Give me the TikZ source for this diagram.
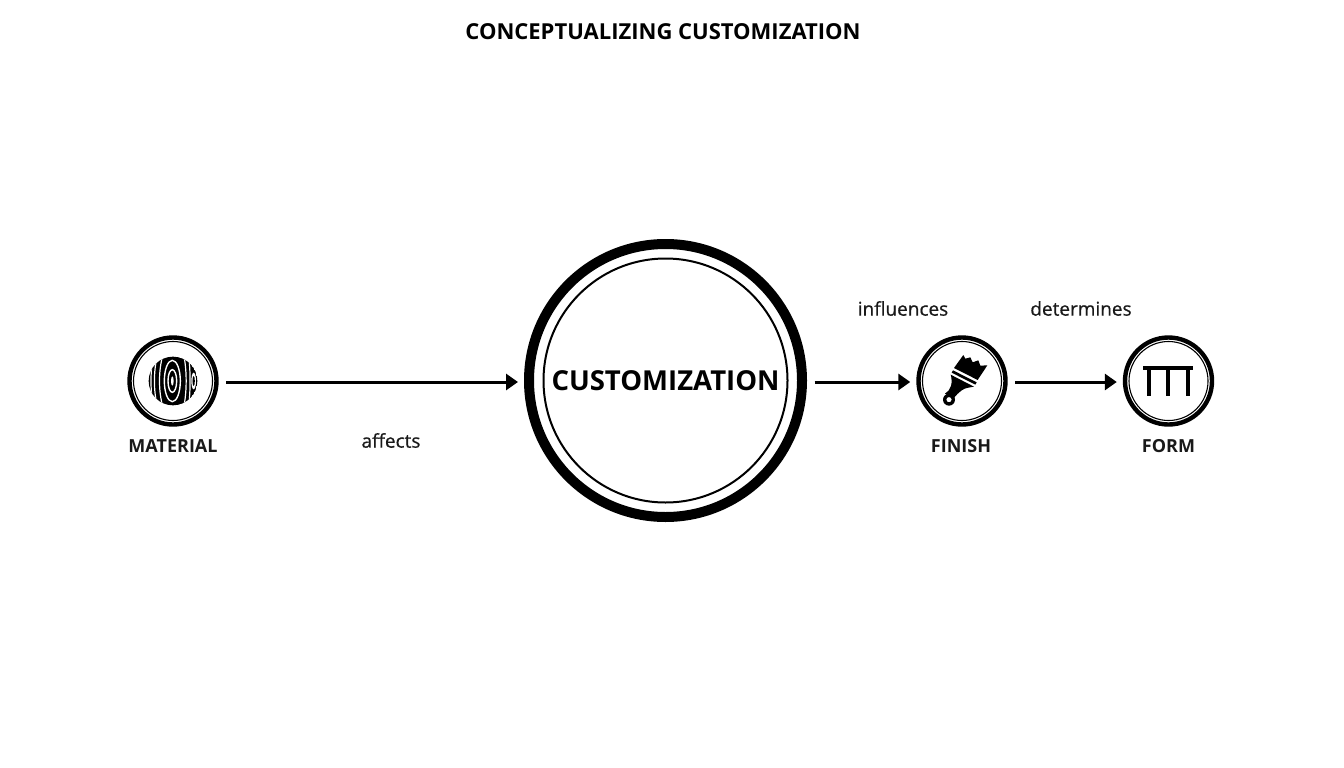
\documentclass[tikz,border=0pt]{standalone}
\usepackage{fontspec}
\setmainfont{Open Sans}
\newfontfamily\medfont[FakeBold=0.7]{Open Sans}
\usetikzlibrary{arrows.meta}
\tikzset{
  small ring/.style={circle,draw=black,line width=4.4pt,minimum size=87pt,inner sep=0pt,fill=white},
  big ring/.style={circle,draw=black,line width=10pt,minimum size=273pt,inner sep=0pt,fill=white},
  thin ring/.style={circle,draw=black,inner sep=0pt},
  item label/.style={font=\fontsize{18}{20}\selectfont\bfseries,text=black!90,inner sep=0pt,anchor=center},
  link label/.style={font=\medfont\fontsize{19}{22}\selectfont,text=black!90,inner sep=0pt,anchor=center},
  flow/.style={line width=3pt,draw=black,-{Triangle[length=12pt,width=16pt]},shorten <=7.5pt,shorten >=6pt},
}
\begin{document}
\begin{tikzpicture}[x=1pt,y=-1pt]
\useasboundingbox (0,0) rectangle (1344,768);
\node[font=\fontsize{22}{24}\selectfont\bfseries,inner sep=0pt] (title) at (663,31.5) {CONCEPTUALIZING CUSTOMIZATION};

\node[big ring] (custom) at (665.5,380.5) {};
\node[thin ring,line width=2pt,minimum size=244pt] (customin) at (custom) {};
\node[font=\fontsize{27.5}{30}\selectfont\bfseries,inner sep=0pt] (customtext) at (665.5,380.5) {CUSTOMIZATION};

\node[small ring] (material) at (173,381) {};
\node[thin ring,line width=1.1pt,minimum size=79pt] (materialin) at (material) {};
\node[small ring] (finish) at (962,381) {};
\node[thin ring,line width=1.1pt,minimum size=79pt] (finishin) at (finish) {};
\node[small ring] (form) at (1168.5,381) {};
\node[thin ring,line width=1.1pt,minimum size=79pt] (formin) at (form) {};

\node[item label] (lmaterial) at (173,446) {MATERIAL};
\node[item label] (lfinish) at (961,446) {FINISH};
\node[item label] (lform) at (1168.5,446) {FORM};
\node[link label] (laffects) at (391,440.5) {affects};
\node[link label] (linfluences) at (903,308.5) {influences};
\node[link label] (ldetermines) at (1081,308.5) {determines};

\draw[flow] (material.east |- 0,382) -- (custom.west |- 0,382);
\draw[flow] (custom.east |- 0,382) -- (finish.west |- 0,382);
\draw[flow] (finish.east |- 0,382) -- (form.west |- 0,382);

% wood icon
\begin{scope}[shift={(143,351)},x=0.3333pt,y=-0.3333pt]
  \begin{scope}
    \clip (90,90) circle [radius=73];
    \fill[black] (90,90) circle [radius=73];
    \draw[white,line width=1.2pt] (60,10) .. controls (46,60) and (46,120) .. (60,170);
    \draw[white,line width=1.2pt] (44,10) .. controls (31,60) and (31,120) .. (44,170);
    \draw[white,line width=1.2pt] (30,20) .. controls (22,60) and (22,120) .. (30,160);
    \draw[white,line width=1.2pt] (122,10) .. controls (132,60) and (132,120) .. (122,170);
    \draw[white,line width=1.2pt] (136,10) .. controls (143,50) and (143,130) .. (136,170);
    \draw[white,line width=1.4pt] (88,90) ellipse [x radius=24,y radius=62];
    \draw[white,line width=1.4pt] (88,90) ellipse [x radius=13,y radius=34];
    \fill[white] (88,90) ellipse [x radius=4,y radius=14];
    \fill[white] (152,90) ellipse [x radius=7,y radius=25];
    \fill[black] (152,90) ellipse [x radius=3.5,y radius=15];
  \end{scope}
\end{scope}

% brush icon
\begin{scope}[shift={(935,351)},x=0.3333pt,y=-0.3333pt]
  \fill[black] (85,12) -- (91,23) -- (106,19) -- (113,34) -- (130,28) -- (136,44) -- (157,43) -- (128,87) -- (57,51) -- cycle;
  \fill[black] (54,58) -- (125,94) -- (121,101) -- (50,65) -- cycle;
  \fill[black] (47,71) -- (117,107) -- (100,110) .. controls (85,112) and (72,122) .. (56,142)
     -- (30,128) .. controls (48,118) and (54,95) .. cycle;
  \fill[black,even odd rule] (42,146) circle [radius=18] (42,146) circle [radius=8];
\end{scope}

% table icon
\begin{scope}[shift={(1138,355)},x=0.3333pt,y=-0.3333pt]
  \fill[black] (16,34) rectangle (166,46);
  \fill[black] (28,40) rectangle (40,124);
  \fill[black] (84,40) rectangle (97,124);
  \fill[black] (143,40) rectangle (155,124);
\end{scope}
\end{tikzpicture}
\end{document}
